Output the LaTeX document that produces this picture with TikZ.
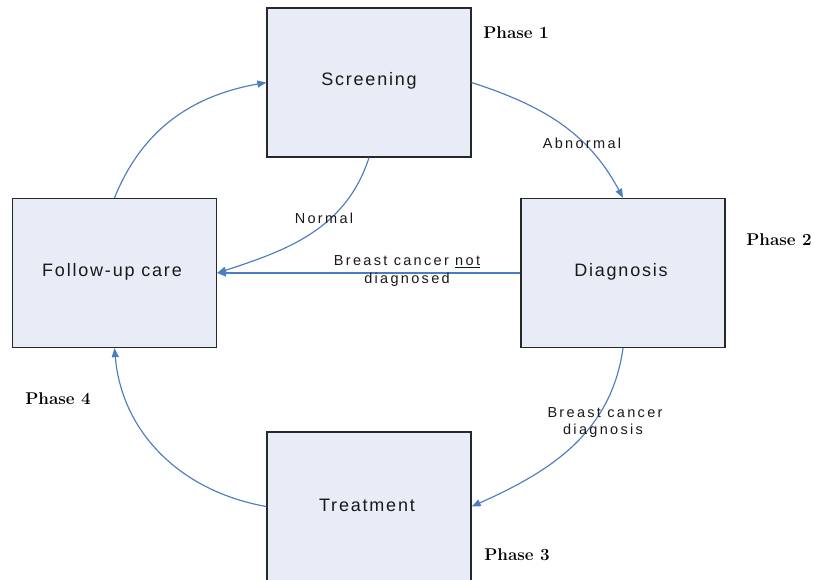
\documentclass[tikz,border=0pt]{standalone}
\usepackage{fontspec}
\newfontfamily\boxfont[LetterSpace=10]{Liberation Sans}
\newfontfamily\lblfont[LetterSpace=16]{Liberation Sans}
\usetikzlibrary{arrows.meta}
\definecolor{boxfill}{RGB}{232,236,246}
\definecolor{boxdraw}{RGB}{40,40,40}
\definecolor{conn}{RGB}{74,126,192}
\definecolor{txt}{RGB}{25,25,25}
\begin{document}
\begin{tikzpicture}[x=1pt,y=-1pt,
  phasebox/.style={draw=boxdraw,fill=boxfill,line width=1.3pt,minimum width=204pt,minimum height=149pt,inner sep=0pt},
  boxtext/.style={text=txt,font=\boxfont\fontsize{18}{21}\selectfont,inner sep=0pt},
  flow/.style={draw=conn,line width=1.15pt,-{Triangle[length=9pt,width=7pt]}},
  lbl/.style={text=txt,font=\lblfont\fontsize{14.5}{17}\selectfont,align=center,inner sep=0pt},
  phase/.style={text=black,font=\fontsize{17}{20}\bfseries\selectfont,inner sep=0pt}]
\useasboundingbox (0,0) rectangle (814,579);
\begin{scope}
\clip (0,0) rectangle (814,579);
\node[phasebox] (scr) at (369,82.5) {};
\node[phasebox] (fol) at (114.5,273) {};
\node[phasebox] (dia) at (623,273) {};
\node[phasebox] (tre) at (369,506.5) {};
\end{scope}
\node[boxtext] (tscr) at (369,81) {Screening};
\node[boxtext] (tfol) at (112,272) {Follow-up care};
\node[boxtext] (tdia) at (621,272) {Diagnosis};
\node[boxtext] (ttre) at (367,505) {Treatment};
\node[phase] (p1) at (516,33) {Phase 1};
\node[phase] (p2) at (779,240) {Phase 2};
\node[phase] (p3) at (517,555) {Phase 3};
\node[phase] (p4) at (58,399) {Phase 4};
\draw[flow] (scr.east) to[out=-18,in=118] (dia.north);
\draw[flow] (scr.south) to[out=-108,in=18] (fol.east);
\draw[flow] (dia.west) -- (fol.east);
\draw[flow] (fol.north) to[out=68,in=190] (scr.west);
\draw[flow] (dia.south) to[out=-98,in=24] (tre.east);
\draw[flow] (tre.west) to[out=170,in=-85] (fol.south);
\node[lbl] (labn) at (582,143) {Abnormal};
\node[lbl] (lnor) at (324,218) {Normal};
\node[lbl] (lnot1) at (407,262) {Breast cancer \underline{not}};
\node[lbl] (lnot2) at (407,280) {diagnosed};
\node[lbl] (ldia1) at (605,413) {Breast cancer};
\node[lbl] (ldia2) at (603,431) {diagnosis};
\end{tikzpicture}
\end{document}
